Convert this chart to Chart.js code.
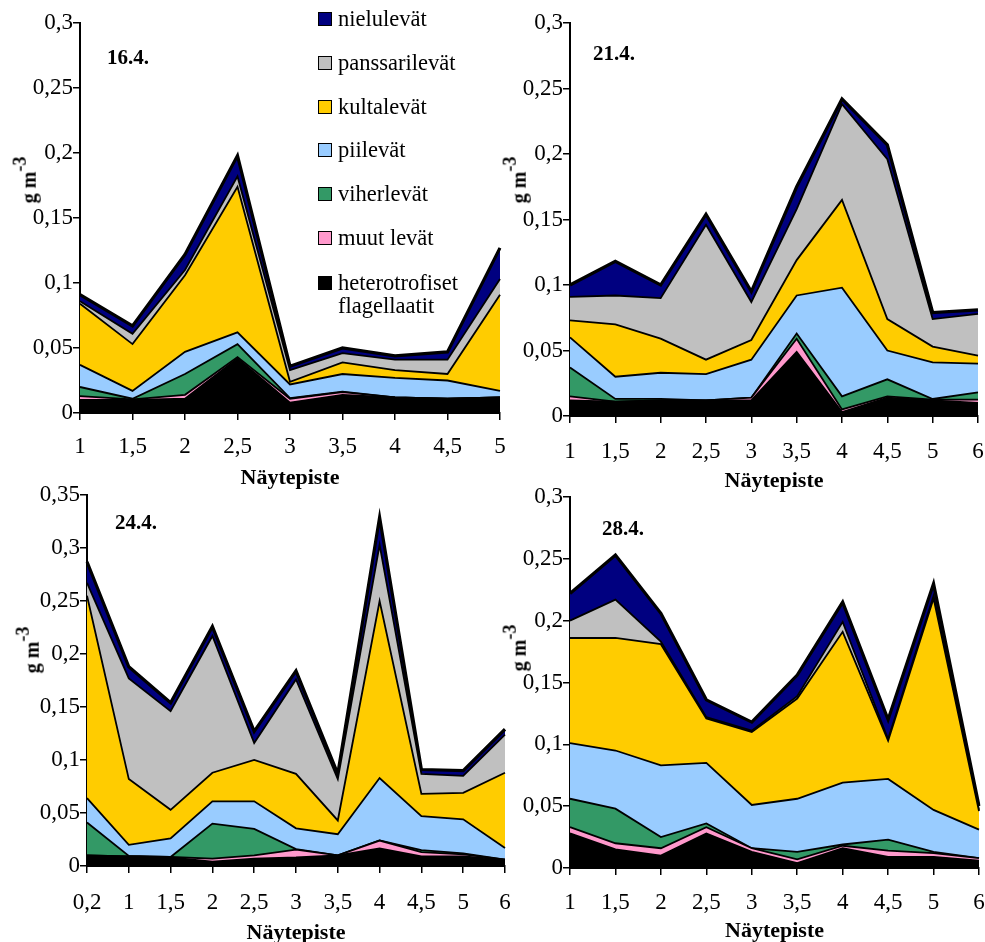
<!DOCTYPE html>
<html>
<head>
<meta charset="utf-8">
<script src="https://cdn.jsdelivr.net/npm/chart.js@4/dist/chart.umd.min.js"></script>
<style>
  html, body { margin: 0; padding: 0; background: #fff; width: 985px; height: 942px; overflow: hidden; }
  body { position: relative; font-family: "Liberation Serif", "Times New Roman", serif; color: #000; }
  .panel { position: absolute; }
  .date { position: absolute; font-weight: bold; font-size: 21px; line-height: 21px; white-space: nowrap; }
  .ytitle { position: absolute; font-weight: bold; font-size: 20px; line-height: 20px; white-space: nowrap;
            transform: translate(-50%, -50%) rotate(-90deg); }
  .ytitle sup { font-size: 0.9em; position: relative; top: -0.1em; }
  .lg-box { position: absolute; width: 12px; height: 12px; border: 1.5px solid #000; }
  .lg-text { position: absolute; font-size: 22.5px; line-height: 23px; white-space: nowrap; }
</style>
</head>
<body>
<div class="panel" id="p1" style="left:0px;top:0px;width:515px;height:492px"><canvas id="c1"></canvas></div>
<div class="panel" id="p2" style="left:490px;top:0px;width:495px;height:495px"><canvas id="c2"></canvas></div>
<div class="panel" id="p3" style="left:0px;top:470px;width:515px;height:477px"><canvas id="c3"></canvas></div>
<div class="panel" id="p4" style="left:490px;top:470px;width:495px;height:475px"><canvas id="c4"></canvas></div>

<div class="date" style="left:107px;top:47px">16.4.</div>
<div class="date" style="left:593px;top:43px">21.4.</div>
<div class="date" style="left:115px;top:512px">24.4.</div>
<div class="date" style="left:602px;top:518px">28.4.</div>

<div class="ytitle" style="left:25px;top:180px">g m<sup>-3</sup></div>
<div class="ytitle" style="left:515px;top:180px">g m<sup>-3</sup></div>
<div class="ytitle" style="left:28px;top:650px">g m<sup>-3</sup></div>
<div class="ytitle" style="left:515px;top:648px">g m<sup>-3</sup></div>

<div id="legend"></div>

<script>
// Algal groups, stacked bottom to top
const groupNames = ["heterotrofiset flagellaatit", "muut levät", "viherlevät", "piilevät", "kultalevät", "panssarilevät", "nielulevät"];
const groupColors = ["#000000", "#ff99cc", "#339966", "#99ccff", "#ffcc00", "#c0c0c0", "#000080"];

// Sampling points (Näytepiste)
const points16 = ["1", "1,5", "2", "2,5", "3", "3,5", "4", "4,5", "5"];
const points21 = ["1", "1,5", "2", "2,5", "3", "3,5", "4", "4,5", "5", "6"];
const points24 = ["0,2", "1", "1,5", "2", "2,5", "3", "3,5", "4", "4,5", "5", "6"];
const points28 = ["1", "1,5", "2", "2,5", "3", "3,5", "4", "4,5", "5", "6"];

// Biomass g m-3, 16.4.
const hetero16 = [0.010, 0.010, 0.011, 0.042, 0.008, 0.014, 0.012, 0.011, 0.012];
const muut16   = [0.003, 0.0005, 0.003, 0.001, 0.003, 0.002, 0, 0, 0];
const viher16  = [0.007, 0.0005, 0.016, 0.010, 0.0005, 0.0005, 0, 0, 0];
const piile16  = [0.017, 0.006, 0.017, 0.009, 0.0105, 0.0135, 0.015, 0.014, 0.005];
const kulta16  = [0.047, 0.036, 0.059, 0.112, 0.002, 0.009, 0.006, 0.005, 0.074];
const panss16  = [0.002, 0.008, 0.004, 0.008, 0.009, 0.007, 0.008, 0.011, 0.012];
const nielu16  = [0.005, 0.006, 0.012, 0.016, 0.003, 0.004, 0.003, 0.006, 0.024];

// Biomass g m-3, 21.4.
const hetero21 = [0.012, 0.011, 0.012, 0.012, 0.012, 0.049, 0.003, 0.014, 0.012, 0.010];
const muut21   = [0.003, 0, 0, 0, 0.002, 0.010, 0.002, 0.001, 0.0005, 0.0025];
const viher21  = [0.022, 0.002, 0.001, 0, 0, 0.004, 0.010, 0.013, 0.0005, 0.0055];
const piile21  = [0.023, 0.017, 0.020, 0.020, 0.029, 0.029, 0.083, 0.022, 0.028, 0.022];
const kulta21  = [0.013, 0.040, 0.026, 0.011, 0.015, 0.027, 0.067, 0.024, 0.012, 0.006];
const panss21  = [0.018, 0.022, 0.031, 0.103, 0.029, 0.039, 0.073, 0.122, 0.021, 0.032];
const nielu21  = [0.009, 0.026, 0.010, 0.008, 0.008, 0.017, 0.004, 0.011, 0.005, 0.003];

// Biomass g m-3, 24.4.
const hetero24 = [0.010, 0.009, 0.008, 0.004, 0.007, 0.008, 0.010, 0.0165, 0.009, 0.009, 0.006];
const muut24   = [0, 0, 0.0005, 0.003, 0.003, 0.0075, 0, 0.0075, 0.004, 0.002, 0];
const viher24  = [0.031, 0.0005, 0, 0.033, 0.025, 0.0005, 0, 0, 0.002, 0.001, 0];
const piile24  = [0.023, 0.0105, 0.0175, 0.021, 0.026, 0.0195, 0.020, 0.059, 0.032, 0.032, 0.011];
const kulta24  = [0.191, 0.062, 0.027, 0.027, 0.039, 0.0515, 0.013, 0.167, 0.021, 0.025, 0.071];
const panss24  = [0.012, 0.095, 0.093, 0.129, 0.016, 0.089, 0.039, 0.053, 0.019, 0.016, 0.036];
const nielu24  = [0.020, 0.011, 0.008, 0.009, 0.011, 0.008, 0.005, 0.026, 0.004, 0.005, 0.005];

// Biomass g m-3, 28.4.
const hetero28 = [0.028, 0.015, 0.010, 0.028, 0.013, 0.004, 0.016, 0.009, 0.009, 0.006];
const muut28   = [0.005, 0.005, 0.006, 0.005, 0.003, 0.003, 0.002, 0.005, 0.003, 0.002];
const viher28  = [0.023, 0.028, 0.009, 0.003, 0, 0.006, 0.001, 0.009, 0.001, 0];
const piile28  = [0.045, 0.047, 0.058, 0.049, 0.035, 0.043, 0.050, 0.049, 0.034, 0.023];
const kulta28  = [0.085, 0.091, 0.098, 0.036, 0.059, 0.081, 0.122, 0.031, 0.171, 0.015];
const panss28  = [0.014, 0.031, 0.002, 0.001, 0.001, 0.002, 0.008, 0.001, 0.002, 0.001];
const nielu28  = [0.022, 0.036, 0.023, 0.014, 0.007, 0.017, 0.016, 0.016, 0.010, 0.003];

const axisTitle = "Näytepiste";
const serif = "'Liberation Serif', 'Times New Roman', serif";

function fmtTick(v) {
  const r = Math.round(v * 100) / 100;
  return String(r).replace(".", ",");
}

function buildChart(canvasId, labels, layers, yMax, layout) {
  const datasets = layers.map((vals, i) => ({
    label: groupNames[i],
    data: vals,
    backgroundColor: groupColors[i],
    borderColor: "#000",
    borderWidth: i === layers.length - 1 ? 3.2 : 1.8,
    borderJoinStyle: "miter",
    fill: i === 0 ? "origin" : "-1",
    pointRadius: 0,
    tension: 0
  }));
  const tickGrid = { display: true, drawOnChartArea: false, drawTicks: true, tickLength: 7, color: "#000", lineWidth: 1.5 };
  return new Chart(document.getElementById(canvasId), {
    type: "line",
    data: { labels: labels, datasets: datasets },
    options: {
      responsive: true,
      maintainAspectRatio: false,
      animation: false,
      layout: { padding: layout.padding },
      plugins: { legend: { display: false }, tooltip: { enabled: false } },
      scales: {
        x: {
          type: "category",
          offset: false,
          grid: tickGrid,
          border: { display: true, color: "#000", width: 2 },
          ticks: { color: "#000", font: { family: serif, size: 23 }, padding: layout.tickPad, maxRotation: 0, autoSkip: false },
          title: { display: true, text: axisTitle, color: "#000", font: { family: serif, size: 22, weight: "bold" }, padding: 0 },
          afterFit: s => {
            s.height = layout.xHeight;
            // label overhang only; the gap below the ticks must not narrow the plot
            s.paddingLeft = 6;
            s.paddingRight = 6;
          }
        },
        y: {
          stacked: true,
          min: 0,
          max: yMax,
          grid: tickGrid,
          border: { display: true, color: "#000", width: 2 },
          ticks: { stepSize: 0.05, color: "#000", font: { family: serif, size: 23 }, padding: 0, callback: v => fmtTick(v) },
          afterFit: s => { s.width = 60; }
        }
      }
    }
  });
}

buildChart("c1", points16, [hetero16, muut16, viher16, piile16, kulta16, panss16, nielu16], 0.3,
  { padding: { left: 20, top: 23, right: 15, bottom: 0 }, xHeight: 79, tickPad: 13 });
buildChart("c2", points21, [hetero21, muut21, viher21, piile21, kulta21, panss21, nielu21], 0.3,
  { padding: { left: 20, top: 23, right: 7, bottom: 0 }, xHeight: 79, tickPad: 15 });
buildChart("c3", points24, [hetero24, muut24, viher24, piile24, kulta24, panss24, nielu24], 0.35,
  { padding: { left: 27, top: 25, right: 10, bottom: 0 }, xHeight: 81, tickPad: 16 });
buildChart("c4", points28, [hetero28, muut28, viher28, piile28, kulta28, panss28, nielu28], 0.3,
  { padding: { left: 20, top: 27, right: 5, bottom: 0 }, xHeight: 77, tickPad: 14 });

// Legend, top to bottom: nielulevät ... heterotrofiset flagellaatit
const legendRows = [19, 63, 107, 150, 194, 238, 283];
const legend = document.getElementById("legend");
for (let k = 0; k < groupNames.length; k++) {
  const gi = groupNames.length - 1 - k;
  const cy = legendRows[k];
  const box = document.createElement("div");
  box.className = "lg-box";
  box.style.left = "318px";
  box.style.top = (cy - 7) + "px";
  box.style.background = groupColors[gi];
  legend.appendChild(box);
  const lines = gi === 0 ? groupNames[gi].split(" ") : [groupNames[gi]];
  lines.forEach((ln, j) => {
    const t = document.createElement("div");
    t.className = "lg-text";
    t.style.left = "338px";
    t.style.top = (cy - 12 + j * 23) + "px";
    t.textContent = ln;
    legend.appendChild(t);
  });
}
</script>
</body>
</html>
